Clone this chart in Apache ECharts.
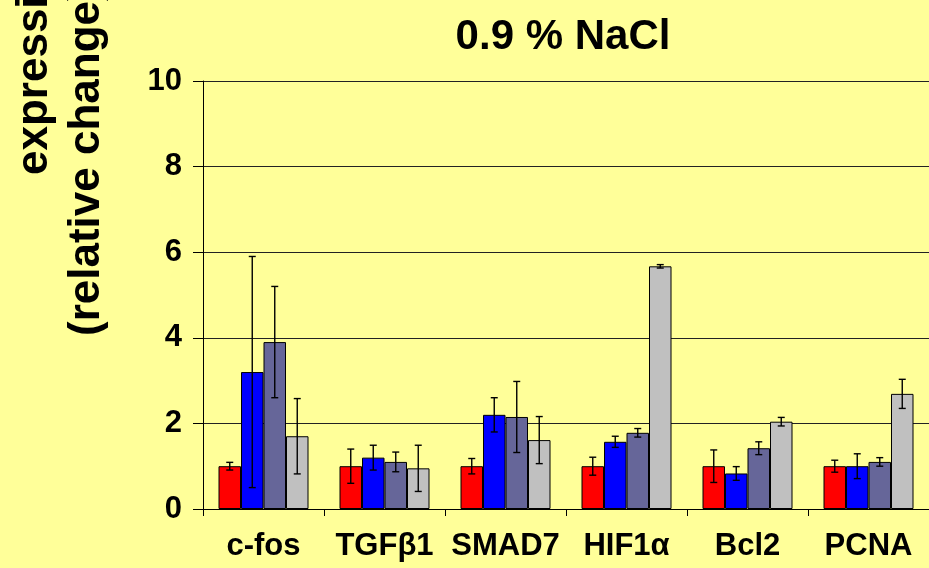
<!DOCTYPE html>
<html>
<head>
<meta charset="utf-8">
<script src="https://cdn.jsdelivr.net/npm/echarts@6/dist/echarts.min.js"></script>
<style>
html,body{margin:0;padding:0;background:#FFFF99;}
#chart{width:929px;height:568px;}
</style>
</head>
<body>
<div id="chart"></div>
<script>
var categories = ['c-fos', 'TGF\u03B21', 'SMAD7', 'HIF1\u03B1', 'Bcl2', 'PCNA'];
var redVals = [1.0, 1.0, 1.0, 1.0, 1.0, 1.0];
var redErr = [0.09, 0.4, 0.18, 0.21, 0.38, 0.14];
var blueVals = [3.2, 1.2, 2.2, 1.57, 0.83, 1.0];
var blueErr = [2.7, 0.29, 0.4, 0.13, 0.16, 0.29];
var slateVals = [3.9, 1.1, 2.15, 1.78, 1.42, 1.1];
var slateErr = [1.3, 0.23, 0.83, 0.1, 0.15, 0.1];
var grayVals = [1.7, 0.95, 1.61, 5.67, 2.04, 2.69];
var grayErr = [0.88, 0.54, 0.55, 0.04, 0.1, 0.34];
var yTicks = [0, 2, 4, 6, 8, 10];

var FONT = '"Liberation Sans", Arial, sans-serif';
var BAR_W = 22.5;
var seriesVals = [redVals, blueVals, slateVals, grayVals];
var seriesErr = [redErr, blueErr, slateErr, grayErr];
var colors = ['#FF0000', '#0000FF', '#666699', '#C0C0C0'];

var chart = echarts.init(document.getElementById('chart'), null, {renderer: 'canvas'});

var series = [];
seriesVals.forEach(function (vals, si) {
  series.push({
    type: 'bar',
    data: vals,
    barWidth: BAR_W,
    barGap: '0%',
    itemStyle: {color: colors[si], borderColor: '#000', borderWidth: 1},
    z: 2,
    animation: false
  });
});

var errData = [];
seriesVals.forEach(function (vals, si) {
  vals.forEach(function (v, ci) {
    errData.push([ci, v - seriesErr[si][ci], v + seriesErr[si][ci], si]);
  });
});

series.push({
  type: 'custom',
  data: errData,
  z: 5,
  animation: false,
  encode: {x: 0, y: [1, 2]},
  renderItem: function (params, api) {
    var ci = api.value(0), lo = api.value(1), hi = api.value(2), si = api.value(3);
    var pLo = api.coord([ci, lo]);
    var pHi = api.coord([ci, hi]);
    var x = pLo[0] + (si - 1.5) * BAR_W;
    var cap = 3.5;
    var st = {stroke: '#000', lineWidth: 1.4};
    return {
      type: 'group',
      children: [
        {type: 'line', shape: {x1: x, y1: pLo[1], x2: x, y2: pHi[1]}, style: st},
        {type: 'line', shape: {x1: x - cap, y1: pLo[1], x2: x + cap, y2: pLo[1]}, style: st},
        {type: 'line', shape: {x1: x - cap, y1: pHi[1], x2: x + cap, y2: pHi[1]}, style: st}
      ]
    };
  }
});

var option = {
  backgroundColor: '#FFFF99',
  animation: false,
  title: {
    text: '0.9 % NaCl',
    left: 558,
    top: 11,
    textAlign: 'center',
    textStyle: {fontFamily: FONT, fontWeight: 'bold', fontSize: 42, color: '#000'}
  },
  grid: {left: 203, top: 81, width: 730, height: 428, containLabel: false},
  xAxis: {
    type: 'category',
    data: categories,
    axisLine: {show: true, lineStyle: {color: '#000', width: 1}},
    axisTick: {show: true, inside: false, length: 7, lineStyle: {color: '#000'}, alignWithLabel: false},
    axisLabel: {fontFamily: FONT, fontWeight: 'bold', fontSize: 31, color: '#000', margin: 22, interval: 0},
    splitLine: {show: false}
  },
  yAxis: {
    type: 'value',
    min: yTicks[0],
    max: yTicks[yTicks.length - 1],
    interval: 2,
    axisLine: {show: true, lineStyle: {color: '#000', width: 1}},
    axisTick: {show: true, length: 10, lineStyle: {color: '#000'}},
    axisLabel: {fontFamily: FONT, fontWeight: 'bold', fontSize: 31, color: '#000', margin: 21},
    splitLine: {show: true, lineStyle: {color: '#222', width: 1}}
  },
  graphic: [
    {
      type: 'text', x: 57, y: 175, rotation: Math.PI / 2,
      style: {text: 'expression', font: 'bold 44px ' + FONT, fill: '#000', align: 'left', verticalAlign: 'bottom'}
    },
    {
      type: 'text', x: 109, y: 336, rotation: Math.PI / 2,
      style: {text: '(relative change)', font: 'bold 44px ' + FONT, fill: '#000', align: 'left', verticalAlign: 'bottom'}
    }
  ],
  series: series
};
chart.setOption(option);
</script>
</body>
</html>
